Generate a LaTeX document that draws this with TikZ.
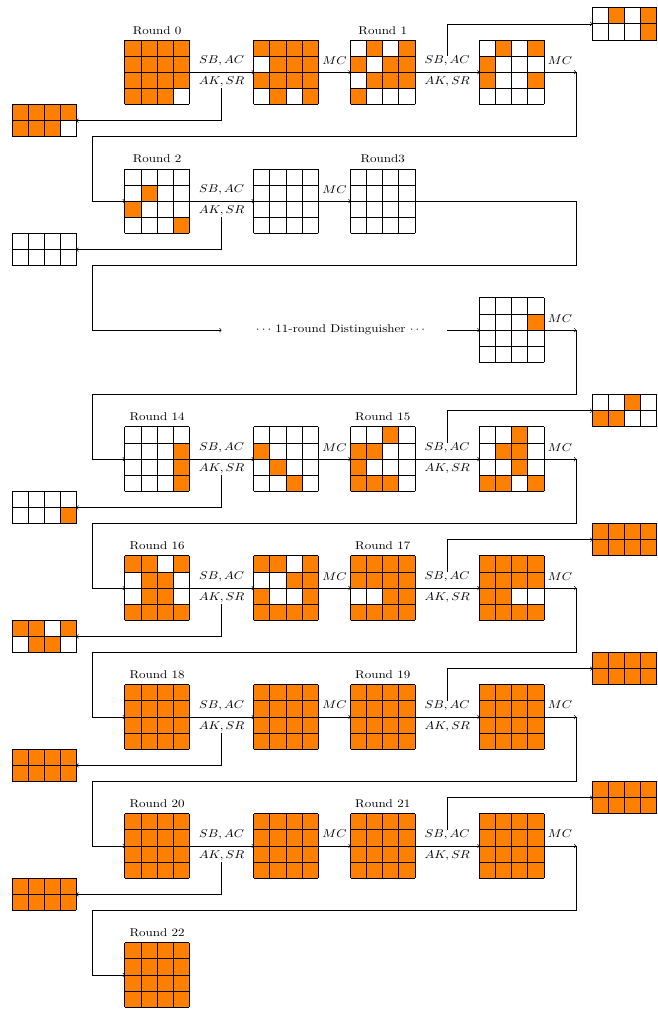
\documentclass[tikz,border=0pt]{standalone}
\usepackage{graphicx}
\definecolor{cellor}{RGB}{255,128,0}
\newcommand{\cellsz}{16.12pt}
\newcommand{\st}[1]{\scalebox{1.3}[1.13]{#1}}
\tikzset{
  arr/.style={->, line width=0.6pt},
  conn/.style={line width=0.6pt},
  gridline/.style={line width=0.9pt, step=1},
  cellfill/.style={fill=cellor},
  gridbox/.style={rectangle, inner sep=0pt, outer sep=0pt, minimum width=4*\cellsz, anchor=north west},
  lbl/.style={inner sep=0pt, anchor=base},
}
% #1 name, #2 x left, #3 y top, #4 rows, #5 cell list
\newcommand{\stategrid}[5]{%
  \foreach \v [count=\i from 0] in {#5} {%
    \pgfmathtruncatemacro{\gc}{mod(\i,4)}%
    \pgfmathtruncatemacro{\gr}{div(\i,4)}%
    \ifnum\v=1 \fill[cellfill] (#2+\gc,#3-\gr) rectangle ++(1,-1);\fi
  }%
  \draw[gridline] (#2,#3-#4) grid (#2+4,#3);
  \node[gridbox, minimum height=#4*\cellsz] (#1) at (#2,#3) {};
}
% SB,AC step between grid a and b, with branch to the left small grid
\newcommand{\stepAB}[2]{%
  \draw[arr] (g#1a.east) -- (g#1b.west);
  \node[lbl] (s#1a) at (13,#2-1.48) {\st{$SB,AC$}};
  \node[lbl] (s#1b) at (13,#2-2.75) {\st{$AK,SR$}};
  \coordinate (l#1) at (13,#2-3);
  \draw[arr] (l#1) |- (k#1l.east);
}
\newcommand{\stepBC}[2]{%
  \draw[arr] (g#1b.east) -- (g#1c.west);
  \node[lbl] (m#1b) at (20,#2-1.5) {\st{$MC$}};
}
\newcommand{\stepCD}[2]{%
  \draw[arr] (g#1c.east) -- (g#1d.west);
  \node[lbl] (s#1c) at (27,#2-1.48) {\st{$SB,AC$}};
  \node[lbl] (s#1d) at (27,#2-2.75) {\st{$AK,SR$}};
  \coordinate (u#1) at (27,#2-1);
  \draw[arr] (u#1) |- (k#1r.west);
}
\newcommand{\stepDE}[2]{%
  \coordinate (e#1) at (35,#2-2);
  \draw[arr] (g#1d.east) -- (e#1);
  \node[lbl] (m#1d) at (34,#2-1.5) {\st{$MC$}};
}
% return line: #1 id, #2 T, #3 target
\newcommand{\retline}[3]{%
  \coordinate (p#1) at (35,#2-6);
  \coordinate (q#1) at (5,#2-6);
  \draw[arr] (e#1) -- (p#1) -- (q#1) |- (#3);
}
\begin{document}
\begin{tikzpicture}[x={(\cellsz,0)}, y={(0,\cellsz)}]
\useasboundingbox (-0.744,2.481) rectangle (40.013,-60.112);

% ---------------- Row 0 : Rounds 0, 1
\stategrid{g0a}{7}{0}{4}{1,1,1,1, 1,1,1,1, 1,1,1,1, 1,1,1,0}
\stategrid{g0b}{15}{0}{4}{1,1,1,1, 0,1,1,1, 1,1,1,1, 0,1,0,1}
\stategrid{g0c}{21}{0}{4}{0,1,0,1, 1,0,1,1, 0,1,1,1, 1,0,0,0}
\stategrid{g0d}{29}{0}{4}{0,1,0,1, 1,0,0,0, 1,0,0,1, 0,0,0,0}
\stategrid{k0r}{36}{2}{2}{0,1,0,1, 0,0,0,1}
\stategrid{k0l}{0}{-4}{2}{1,1,1,1, 1,1,1,0}
\node[lbl] (t0a) at (9,0.37) {\st{Round 0}};
\node[lbl] (t0c) at (23,0.37) {\st{Round 1}};
\stepAB{0}{0}
\stepBC{0}{0}
\stepCD{0}{0}
\stepDE{0}{0}

% ---------------- Row 1 : Rounds 2, 3
\stategrid{g1a}{7}{-8}{4}{0,0,0,0, 0,1,0,0, 1,0,0,0, 0,0,0,1}
\stategrid{g1b}{15}{-8}{4}{0,0,0,0, 0,0,0,0, 0,0,0,0, 0,0,0,0}
\stategrid{g1c}{21}{-8}{4}{0,0,0,0, 0,0,0,0, 0,0,0,0, 0,0,0,0}
\stategrid{k1l}{0}{-12}{2}{0,0,0,0, 0,0,0,0}
\node[lbl] (t1a) at (9,-7.63) {\st{Round 2}};
\node[lbl] (t1c) at (23,-7.63) {\st{Round3}};
\stepAB{1}{-8}
\stepBC{1}{-8}
\coordinate (e1) at (35,-10);
\draw[conn] (g1c.east) -- (e1);
\retline{0}{0}{g1a.west}

% ---------------- Row 2 : distinguisher
\coordinate (d2in) at (13,-18);
\retline{1}{-8}{d2in}
\node[inner sep=0pt] (dist) at (20.38,-18) {\st{$\cdots$ 11-round Distinguisher $\cdots$}};
\coordinate (d2out) at (27,-18);
\stategrid{g2d}{29}{-16}{4}{0,0,0,0, 0,0,0,1, 0,0,0,0, 0,0,0,0}
\draw[arr] (d2out) -- (g2d.west);
\stepDE{2}{-16}

% ---------------- Row 3 : Rounds 14, 15
\stategrid{g3a}{7}{-24}{4}{0,0,0,0, 0,0,0,1, 0,0,0,1, 0,0,0,1}
\stategrid{g3b}{15}{-24}{4}{0,0,0,0, 1,0,0,0, 0,1,0,0, 0,0,1,0}
\stategrid{g3c}{21}{-24}{4}{0,0,1,0, 1,1,0,0, 1,0,0,0, 1,1,1,0}
\stategrid{g3d}{29}{-24}{4}{0,0,1,0, 0,1,1,0, 0,0,1,0, 1,1,0,1}
\stategrid{k3r}{36}{-22}{2}{0,0,1,0, 1,1,0,0}
\stategrid{k3l}{0}{-28}{2}{0,0,0,0, 0,0,0,1}
\node[lbl] (t3a) at (9,-23.63) {\st{Round 14}};
\node[lbl] (t3c) at (23,-23.63) {\st{Round 15}};
\retline{2}{-16}{g3a.west}
\stepAB{3}{-24}
\stepBC{3}{-24}
\stepCD{3}{-24}
\stepDE{3}{-24}

% ---------------- Row 4 : Rounds 16, 17
\stategrid{g4a}{7}{-32}{4}{1,1,0,1, 0,1,1,0, 0,1,1,0, 1,1,1,1}
\stategrid{g4b}{15}{-32}{4}{1,1,0,1, 0,0,1,1, 1,0,0,1, 1,1,1,1}
\stategrid{g4c}{21}{-32}{4}{1,1,1,1, 1,1,1,1, 0,0,1,1, 1,1,1,1}
\stategrid{g4d}{29}{-32}{4}{1,1,1,1, 1,1,1,1, 1,1,0,0, 1,1,1,1}
\stategrid{k4r}{36}{-30}{2}{1,1,1,1, 1,1,1,1}
\stategrid{k4l}{0}{-36}{2}{1,1,0,1, 0,1,1,0}
\node[lbl] (t4a) at (9,-31.63) {\st{Round 16}};
\node[lbl] (t4c) at (23,-31.63) {\st{Round 17}};
\retline{3}{-24}{g4a.west}
\stepAB{4}{-32}
\stepBC{4}{-32}
\stepCD{4}{-32}
\stepDE{4}{-32}

% ---------------- Row 5 : Rounds 18, 19
\stategrid{g5a}{7}{-40}{4}{1,1,1,1, 1,1,1,1, 1,1,1,1, 1,1,1,1}
\stategrid{g5b}{15}{-40}{4}{1,1,1,1, 1,1,1,1, 1,1,1,1, 1,1,1,1}
\stategrid{g5c}{21}{-40}{4}{1,1,1,1, 1,1,1,1, 1,1,1,1, 1,1,1,1}
\stategrid{g5d}{29}{-40}{4}{1,1,1,1, 1,1,1,1, 1,1,1,1, 1,1,1,1}
\stategrid{k5r}{36}{-38}{2}{1,1,1,1, 1,1,1,1}
\stategrid{k5l}{0}{-44}{2}{1,1,1,1, 1,1,1,1}
\node[lbl] (t5a) at (9,-39.63) {\st{Round 18}};
\node[lbl] (t5c) at (23,-39.63) {\st{Round 19}};
\retline{4}{-32}{g5a.west}
\stepAB{5}{-40}
\stepBC{5}{-40}
\stepCD{5}{-40}
\stepDE{5}{-40}

% ---------------- Row 6 : Rounds 20, 21
\stategrid{g6a}{7}{-48}{4}{1,1,1,1, 1,1,1,1, 1,1,1,1, 1,1,1,1}
\stategrid{g6b}{15}{-48}{4}{1,1,1,1, 1,1,1,1, 1,1,1,1, 1,1,1,1}
\stategrid{g6c}{21}{-48}{4}{1,1,1,1, 1,1,1,1, 1,1,1,1, 1,1,1,1}
\stategrid{g6d}{29}{-48}{4}{1,1,1,1, 1,1,1,1, 1,1,1,1, 1,1,1,1}
\stategrid{k6r}{36}{-46}{2}{1,1,1,1, 1,1,1,1}
\stategrid{k6l}{0}{-52}{2}{1,1,1,1, 1,1,1,1}
\node[lbl] (t6a) at (9,-47.63) {\st{Round 20}};
\node[lbl] (t6c) at (23,-47.63) {\st{Round 21}};
\retline{5}{-40}{g6a.west}
\stepAB{6}{-48}
\stepBC{6}{-48}
\stepCD{6}{-48}
\stepDE{6}{-48}

% ---------------- Row 7 : Round 22
\stategrid{g7a}{7}{-56}{4}{1,1,1,1, 1,1,1,1, 1,1,1,1, 1,1,1,1}
\node[lbl] (t7a) at (9,-55.63) {\st{Round 22}};
\retline{6}{-48}{g7a.west}
\end{tikzpicture}
\end{document}
